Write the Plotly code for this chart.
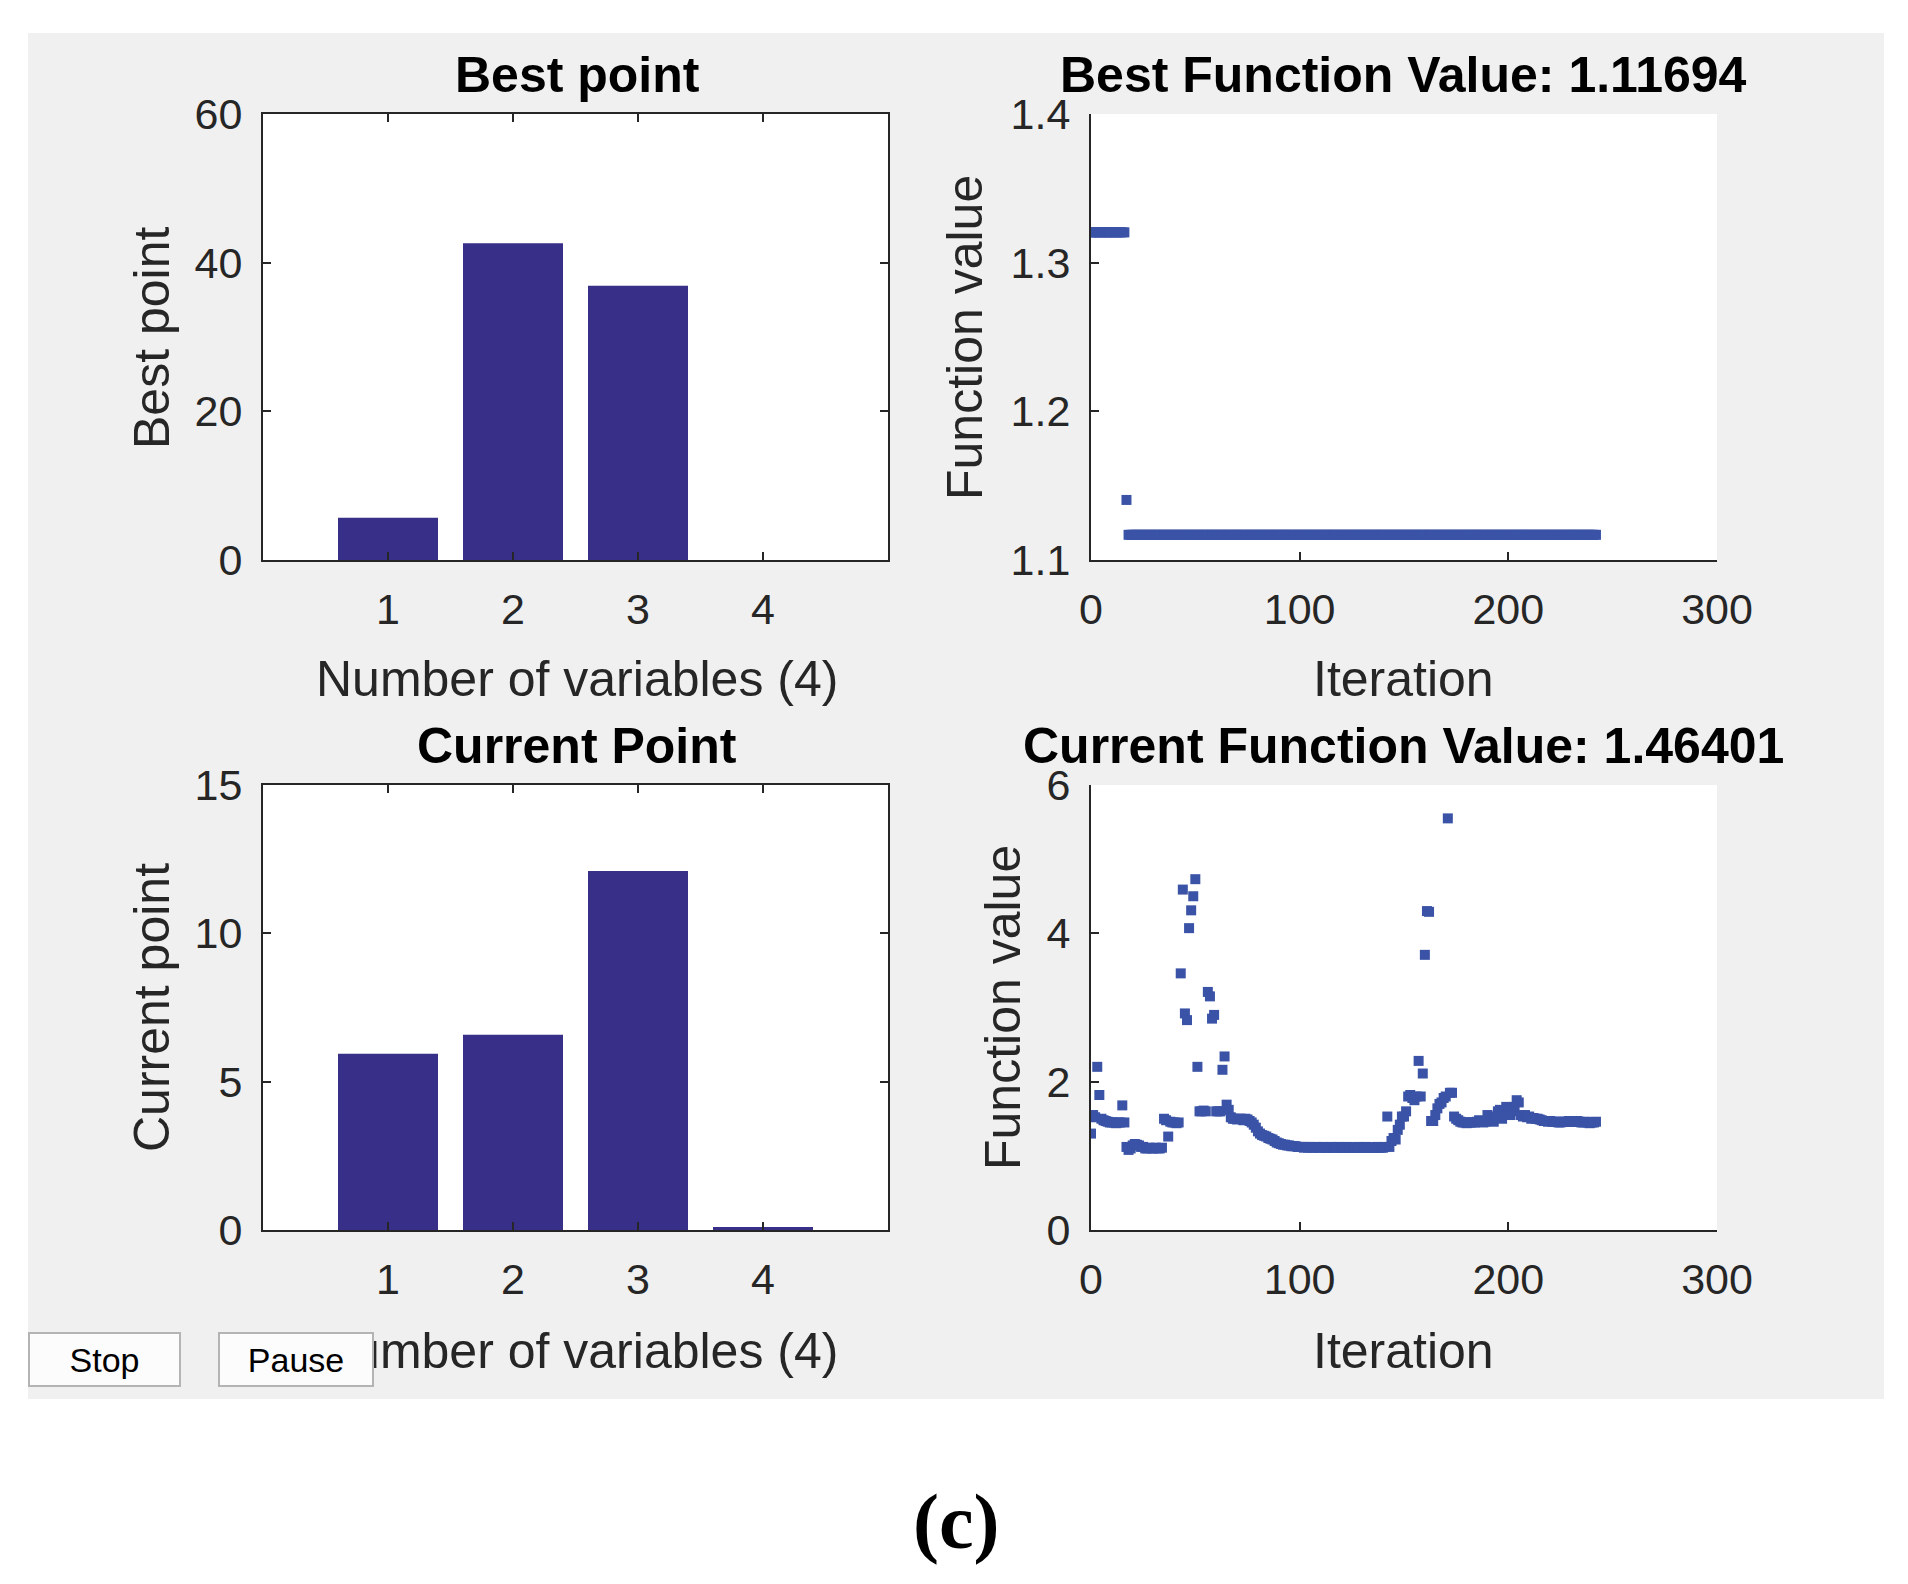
import numpy as np
import plotly.graph_objects as go

# bar charts (variables 1..4)
variables = [1, 2, 3, 4]
best_point = [5.7, 42.6, 36.9, 0.0]
current_point = [5.94, 6.58, 12.10, 0.10]

# best function value per iteration (step levels and how many iterations each lasts)
best_levels = [1.3204, 1.1404, 1.11694]
best_counts = [17, 1, 225]
best_value = np.repeat(best_levels, best_counts)

# current function value per iteration
current_value = [
    1.30, 1.55, 1.52, 2.20, 1.82, 1.50, 1.48, 1.47, 1.46, 1.45,
    1.45, 1.45, 1.44, 1.45, 1.45, 1.68, 1.45, 1.12, 1.08, 1.10,
    1.14, 1.16, 1.15, 1.14, 1.12, 1.12, 1.10, 1.10, 1.11, 1.10,
    1.10, 1.11, 1.10, 1.10, 1.11, 1.50, 1.48, 1.26, 1.46, 1.45,
    1.45, 1.44, 1.45, 3.46, 4.59, 2.92, 2.83, 4.07, 4.31, 4.50,
    4.73, 2.20, 1.60, 1.60, 1.61, 1.60, 3.21, 3.15, 2.85, 2.90,
    1.60, 1.60, 1.60, 2.16, 2.34, 1.69, 1.62, 1.52, 1.50, 1.50,
    1.49, 1.50, 1.50, 1.48, 1.50, 1.49, 1.47, 1.45, 1.42, 1.38,
    1.33, 1.30, 1.28, 1.27, 1.26, 1.24, 1.23, 1.22, 1.20, 1.18,
    1.17, 1.16, 1.15, 1.15, 1.14, 1.14, 1.13, 1.13, 1.13, 1.12,
    1.12, 1.12, 1.11, 1.12, 1.11, 1.12, 1.11, 1.11, 1.12, 1.11,
    1.11, 1.12, 1.11, 1.11, 1.11, 1.12, 1.11, 1.11, 1.11, 1.12,
    1.11, 1.11, 1.11, 1.12, 1.11, 1.11, 1.11, 1.11, 1.12, 1.11,
    1.11, 1.11, 1.12, 1.11, 1.11, 1.11, 1.11, 1.12, 1.11, 1.11,
    1.11, 1.12, 1.53, 1.12, 1.20, 1.24, 1.22, 1.35, 1.42, 1.53,
    1.53, 1.60, 1.80, 1.82, 1.78, 1.75, 1.80, 2.28, 1.80, 2.11,
    3.71, 4.30, 4.29, 1.47, 1.47, 1.55, 1.64, 1.70, 1.72, 1.78,
    1.80, 5.55, 1.85, 1.85, 1.53, 1.50, 1.48, 1.46, 1.45, 1.45,
    1.44, 1.45, 1.45, 1.45, 1.45, 1.46, 1.48, 1.47, 1.45, 1.46,
    1.55, 1.50, 1.48, 1.46, 1.53, 1.60, 1.62, 1.50, 1.58, 1.66,
    1.62, 1.55, 1.60, 1.66, 1.75, 1.72, 1.55, 1.53, 1.55, 1.52,
    1.53, 1.50, 1.51, 1.50, 1.50, 1.49, 1.48, 1.47, 1.47, 1.46,
    1.47, 1.46, 1.46, 1.46, 1.45, 1.45, 1.46, 1.46, 1.46, 1.47,
    1.46, 1.46, 1.46, 1.47, 1.46, 1.45, 1.45, 1.46, 1.45, 1.44,
    1.45, 1.45, 1.46,
]
iterations = list(range(len(current_value)))

W, H = 1908, 1584
OFF = 8  # page body margin
BAR = "#372F88"
DOT = "#3A53A6"
INK = "#262626"
FONT = "Arial, Liberation Sans, sans-serif"


def px(x):
    return (x - OFF) / W


def py(y):
    return 1 - (y - OFF) / H


xl = [px(263), px(888)]
xr = [px(1091), px(1717)]
yt = [py(560), py(114)]
yb = [py(1230), py(785)]

fig = go.Figure()
fig.add_trace(go.Bar(x=variables, y=best_point, width=0.8, marker_color=BAR,
                     marker_line_width=0, xaxis="x", yaxis="y"))
fig.add_trace(go.Scatter(x=iterations, y=best_value, mode="markers",
                         marker=dict(symbol="square", size=10, color=DOT),
                         xaxis="x2", yaxis="y2"))
fig.add_trace(go.Bar(x=variables, y=current_point, width=0.8, marker_color=BAR,
                     marker_line_width=0, xaxis="x3", yaxis="y3"))
fig.add_trace(go.Scatter(x=iterations, y=current_value, mode="markers",
                         marker=dict(symbol="square", size=10, color=DOT),
                         xaxis="x4", yaxis="y4"))

ax = dict(showline=True, linecolor=INK, linewidth=2, ticks="inside", ticklen=8,
          tickwidth=2, tickcolor=INK, showgrid=False, zeroline=False, automargin=False,
          ticklabelstandoff=10,
          tickfont=dict(family=FONT, size=43, color=INK), fixedrange=True)

fig.update_layout(
    width=W, height=H, margin=dict(l=0, r=0, t=0, b=0, pad=0, autoexpand=False),
    paper_bgcolor="white", plot_bgcolor="rgba(0,0,0,0)", showlegend=False,
    xaxis=dict(ax, domain=xl, anchor="y", range=[0, 5], tickvals=[1, 2, 3, 4], mirror="ticks"),
    yaxis=dict(ax, domain=yt, anchor="x", range=[0, 60], tickvals=[0, 20, 40, 60], mirror="ticks"),
    xaxis2=dict(ax, domain=xr, anchor="y2", range=[0, 300], tickvals=[0, 100, 200, 300]),
    yaxis2=dict(ax, domain=yt, anchor="x2", range=[1.1, 1.4], tickvals=[1.1, 1.2, 1.3, 1.4],
                tickformat=".1f"),
    xaxis3=dict(ax, domain=xl, anchor="y3", range=[0, 5], tickvals=[1, 2, 3, 4], mirror="ticks"),
    yaxis3=dict(ax, domain=yb, anchor="x3", range=[0, 15], tickvals=[0, 5, 10, 15], mirror="ticks"),
    xaxis4=dict(ax, domain=xr, anchor="y4", range=[0, 300], tickvals=[0, 100, 200, 300]),
    yaxis4=dict(ax, domain=yb, anchor="x4", range=[0, 6], tickvals=[0, 2, 4, 6]),
)

# grey figure window and white axes backgrounds
shapes = [dict(type="rect", xref="paper", yref="paper", x0=px(28), x1=px(1884),
               y0=py(1399), y1=py(33), fillcolor="#F0F0F0", line_width=0, layer="below")]
for xd in (xl, xr):
    for yd in (yt, yb):
        shapes.append(dict(type="rect", xref="paper", yref="paper", x0=xd[0], x1=xd[1],
                           y0=yd[0], y1=yd[1], fillcolor="white", line_width=0, layer="below"))
fig.update_layout(shapes=shapes)


def label(text, x, y, size=50, bold=False, angle=0, family=FONT, color=INK):
    if bold:
        text = "<b>" + text + "</b>"
    fig.add_annotation(text=text, x=px(x), y=py(y), xref="paper", yref="paper",
                       showarrow=False, textangle=angle, xanchor="center", yanchor="middle",
                       font=dict(family=family, size=size, color=color))


label("Best point", 577, 75, bold=True, color="black")
label("Best Function Value: 1.11694", 1403, 75, bold=True, color="black")
label("Current Point", 577, 746, bold=True, color="black")
label("Current Function Value: 1.46401", 1403, 746, bold=True, color="black")
label("Number of variables (4)", 577, 679)
label("Iteration", 1403, 679)
label("Iteration", 1403, 1351)
label("Best point", 152, 338, angle=-90)
label("Current point", 152, 1008, angle=-90)
label("Function value", 965, 338, angle=-90)
label("Function value", 1003, 1008, angle=-90)
label("Number of variables (4)", 577, 1351)

# Stop / Pause buttons
for text, x0, x1 in (("Stop", 28, 181), ("Pause", 218, 374)):
    fig.add_annotation(text=text, x=px((x0 + x1) / 2), y=py(1359), xref="paper", yref="paper",
                       showarrow=False, xanchor="center", yanchor="middle",
                       width=x1 - x0 - 6, height=49, borderpad=1, borderwidth=2,
                       bgcolor="#FCFCFC", bordercolor="#B4B4B4",
                       font=dict(family=FONT, size=34, color="black"))

label("(c)", 956, 1521, size=78, bold=True, family="Liberation Serif, Times New Roman, serif",
      color="black")

fig.write_html("out.html")
